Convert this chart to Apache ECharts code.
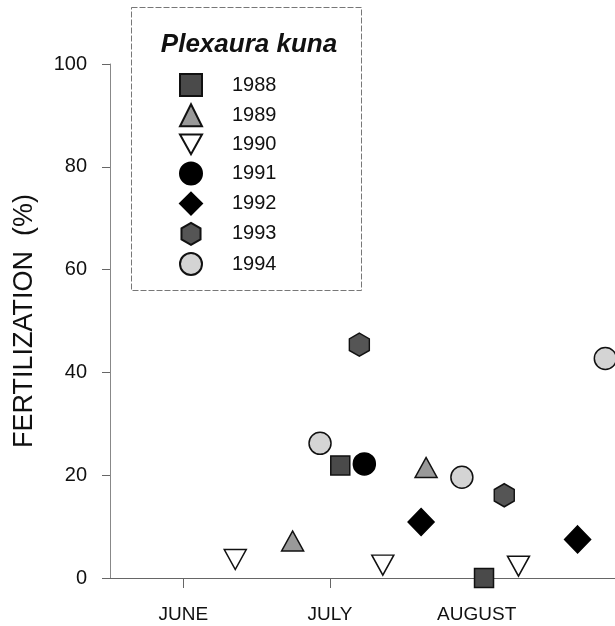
<!DOCTYPE html>
<html>
<head>
<meta charset="utf-8">
<script src="https://cdn.jsdelivr.net/npm/echarts@6/dist/echarts.min.js"></script>
<style>
  html, body { margin: 0; padding: 0; background: #fff; }
  #chart { width: 615px; height: 626px; }
</style>
</head>
<body>
<div id="chart"></div>
<script>
  // month positions: 0 = JUNE, 1 = JULY, 2 = AUGUST (fractions = days into month)
  var months = ['JUNE', 'JULY', 'AUGUST']
  var yTicks = [0, 20, 40, 60, 80, 100]
  var years = ['1988', '1989', '1990', '1991', '1992', '1993', '1994']

  var pts1988 = [[1.07, 21.9], [2.05, 0]]
  var pts1989 = [[0.745, 7.2], [1.655, 21.5]]
  var pts1990 = [[0.354, 3.6], [1.36, 2.5], [2.285, 2.3]]
  var pts1991 = [[1.234, 22.2]]
  var pts1992 = [[1.621, 10.9], [2.688, 7.5]]
  var pts1993 = [[1.2, 45.4], [2.188, 16.1]]
  var pts1994 = [[0.932, 26.2], [1.899, 19.6], [2.877, 42.7]]

  var hexagon = 'path://M0,-1L0.866,-0.5L0.866,0.5L0,1L-0.866,0.5L-0.866,-0.5Z'
  var downTriangle = 'path://M0,0L2,0L1,1.8Z'

  var myChart = echarts.init(document.getElementById('chart'))

  function scatter (name, data, symbol, size, fill, border) {
    return {
      name: name,
      type: 'scatter',
      data: data,
      symbol: symbol,
      symbolSize: size,
      itemStyle: { color: fill, borderColor: border, borderWidth: 1.5, opacity: 1 },
      emphasis: { disabled: true }
    }
  }

  myChart.setOption({
    backgroundColor: '#fff',
    animation: false,
    textStyle: { fontFamily: 'Liberation Sans, Arial, sans-serif' },
    grid: { left: 110, top: 64, right: 0, bottom: 48, containLabel: false },
    title: {
      text: 'Plexaura kuna',
      left: 244,
      top: 27,
      textAlign: 'center',
      textStyle: { fontSize: 26, fontStyle: 'italic', fontWeight: 'bold', color: '#111' }
    },
    graphic: [{
      type: 'rect',
      shape: { x: 131.5, y: 7.5, width: 230, height: 283 },
      style: { fill: 'none', stroke: '#777', lineWidth: 1, lineDash: [6, 2] },
      z: 0
    }],
    legend: {
      orient: 'vertical',
      left: 174,
      top: 68,
      itemWidth: 22,
      itemHeight: 22,
      itemGap: 6.2,
      data: years,
      selectedMode: false,
      textStyle: { fontSize: 20, color: '#111', padding: [0, 0, 0, 25] }
    },
    xAxis: {
      type: 'value',
      min: -0.5,
      max: 2.943,
      splitLine: { show: false },
      axisLine: { onZero: false, lineStyle: { color: '#666', width: 1 } },
      axisTick: { customValues: [0, 1, 2], length: 10, lineStyle: { color: '#666' } },
      axisLabel: {
        customValues: [0, 1, 2],
        margin: 27,
        fontSize: 19,
        color: '#111',
        formatter: function (v) { return months[Math.round(v)] }
      }
    },
    yAxis: {
      type: 'value',
      min: yTicks[0],
      max: yTicks[yTicks.length - 1],
      interval: 20,
      name: 'FERTILIZATION  (%)',
      nameLocation: 'middle',
      nameGap: 72,
      nameTextStyle: { fontSize: 27, color: '#111' },
      splitLine: { show: false },
      axisLine: { show: true, onZero: false, lineStyle: { color: '#888', width: 1 } },
      axisTick: { show: true, length: 8, lineStyle: { color: '#666' } },
      axisLabel: { fontSize: 20, color: '#111', margin: 23 }
    },
    series: [
      scatter('1988', pts1988, 'rect', 19, '#4a4a4a', '#111'),
      scatter('1989', pts1989, 'triangle', [22, 20], '#999', '#111'),
      scatter('1990', pts1990, downTriangle, [22, 20], '#fff', '#111'),
      scatter('1991', pts1991, 'circle', 22, '#000', '#000'),
      scatter('1992', pts1992, 'diamond', [26, 27], '#000', '#000'),
      scatter('1993', pts1993, hexagon, [20, 23], '#555', '#111'),
      scatter('1994', pts1994, 'circle', 22, '#d4d4d4', '#111')
    ]
  })
</script>
</body>
</html>
